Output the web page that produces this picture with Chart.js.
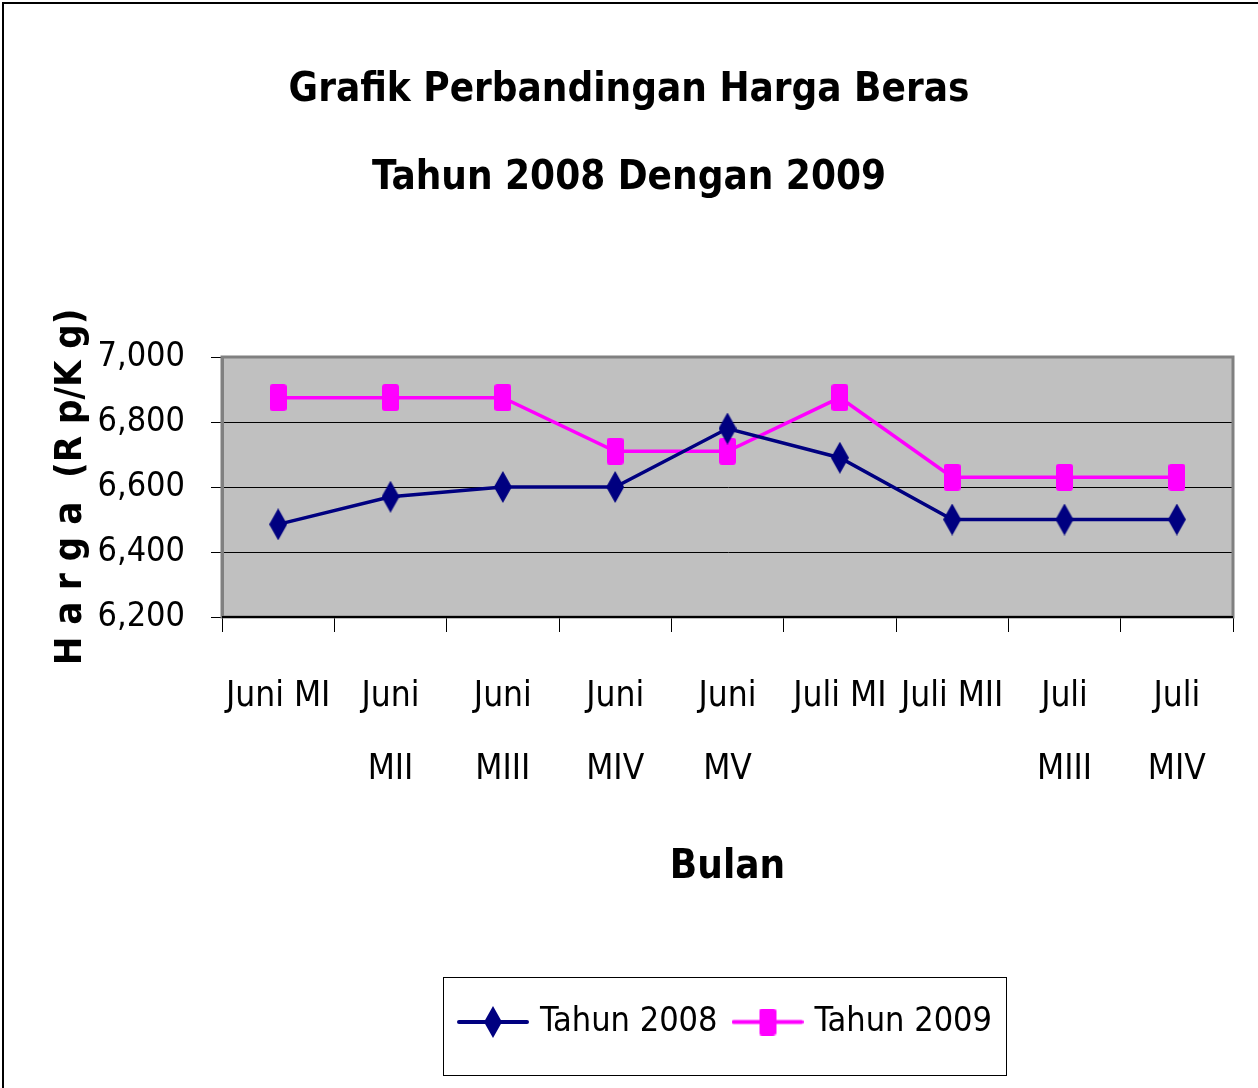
<!DOCTYPE html>
<html>
<head>
<meta charset="utf-8">
<script src="https://cdn.jsdelivr.net/npm/chart.js@4.4.1/dist/chart.umd.min.js"></script>
<style>
  html, body { margin: 0; padding: 0; background: #fff; }
  #wrap { position: absolute; left: 0; top: 0; width: 1258px; height: 1088px; }
  #frame { position: absolute; left: 2px; top: 2px; width: 1256px; height: 1086px;
           border-top: 2px solid #000; border-left: 2px solid #000; box-sizing: border-box; pointer-events: none; }
</style>
</head>
<body>
<div id="wrap">
  <canvas id="hargaChart" width="1258" height="1088"></canvas>
  <div id="frame"></div>
</div>
<script>
const categories = [
  'Juni MI', ['Juni', 'MII'], ['Juni', 'MIII'], ['Juni', 'MIV'], ['Juni', 'MV'],
  'Juli MI', 'Juli MII', ['Juli', 'MIII'], ['Juli', 'MIV']
];
const tahun2008 = [6485, 6570, 6600, 6600, 6780, 6690, 6500, 6500, 6500];
const tahun2009 = [6875, 6875, 6875, 6710, 6710, 6875, 6630, 6630, 6630];
const yTicks = [6200, 6400, 6600, 6800, 7000];

const NARROW = "'Liberation Sans Narrow', 'Arial Narrow', 'DejaVu Sans Condensed', sans-serif";
const NAVY = '#000080';
const MAGENTA = '#FF00FF';

// marker images (taller than wide, like the original)
function diamond(w, h) {
    const c = document.createElement('canvas');
    c.width = w; c.height = h;
    const g = c.getContext('2d');
    g.fillStyle = NAVY;
    g.beginPath();
    g.moveTo(w / 2, 0); g.lineTo(w, h / 2); g.lineTo(w / 2, h); g.lineTo(0, h / 2);
    g.closePath(); g.fill();
    return c;
}
function block(w, h) {
    const c = document.createElement('canvas');
    c.width = w; c.height = h;
    const g = c.getContext('2d');
    g.fillStyle = MAGENTA;
    g.beginPath();
    g.roundRect(0, 0, w, h, 3);
    g.fill();
    return c;
}
function legendIcon(marker, color) {
    const c = document.createElement('canvas');
    c.width = 72; c.height = marker.height;
    const g = c.getContext('2d');
    g.strokeStyle = color;
    g.lineWidth = 4;
    g.lineCap = 'round';
    g.beginPath();
    g.moveTo(2, c.height / 2); g.lineTo(70, c.height / 2);
    g.stroke();
    g.drawImage(marker, (72 - marker.width) / 2, 0);
    return c;
}

const diamondImg = diamond(18, 32);
const blockImg = block(17, 27);
const legendIcons = [legendIcon(diamondImg, NAVY), legendIcon(blockImg, MAGENTA)];

const plotBg = {
    id: 'plotBg',
    beforeDraw(chart) {
        const a = chart.chartArea, ctx = chart.ctx;
        ctx.save();
        ctx.fillStyle = '#C0C0C0';
        ctx.fillRect(a.left, a.top, a.right - a.left, a.bottom - a.top);
        ctx.restore();
    },
    beforeDatasetsDraw(chart) {
        const a = chart.chartArea, ctx = chart.ctx;
        ctx.save();
        ctx.strokeStyle = '#808080';
        ctx.lineWidth = 3;
        ctx.strokeRect(a.left, a.top, a.right - a.left, a.bottom - a.top);
        ctx.strokeStyle = '#000';
        ctx.lineWidth = 2;
        ctx.beginPath();
        ctx.moveTo(a.left, a.bottom); ctx.lineTo(a.right, a.bottom);
        ctx.stroke();
        ctx.restore();
    },
    afterDraw(chart) {
        // box round the legend
        const boxes = chart.legend.legendHitBoxes;
        if (!boxes || !boxes.length) return;
        let l = Infinity, r = -Infinity, t = Infinity, b = -Infinity;
        boxes.forEach(h => {
            l = Math.min(l, h.left); r = Math.max(r, h.left + h.width);
            t = Math.min(t, h.top); b = Math.max(b, h.top + h.height);
        });
        const ctx = chart.ctx;
        ctx.save();
        ctx.strokeStyle = '#000';
        ctx.lineWidth = 1;
        ctx.strokeRect(Math.round(l - 20) + 0.5, Math.round(t - 28) + 0.5, Math.round(r - l) + 34, Math.round(b - t) + 64);
        ctx.restore();
    }
};

new Chart(document.getElementById('hargaChart'), {
    type: 'line',
    data: {
        labels: categories,
        datasets: [{
            label: 'Tahun 2008',
            data: tahun2008,
            borderColor: NAVY,
            borderWidth: 3.5,
            pointStyle: diamondImg,
            tension: 0
        }, {
            label: 'Tahun 2009',
            data: tahun2009,
            borderColor: MAGENTA,
            borderWidth: 3.5,
            pointStyle: blockImg,
            tension: 0
        }]
    },
    options: {
        responsive: false,
        animation: false,
        events: [],
        layout: { padding: { left: 0, right: 0, top: 0, bottom: 39 } },
        plugins: {
            title: {
                display: true,
                text: ['Grafik Perbandingan Harga Beras', 'Tahun 2008 Dengan 2009'],
                color: '#000',
                font: { family: NARROW, size: 40, weight: 'bold', lineHeight: 2.2 },
                padding: { top: 47, bottom: 134 }
            },
            legend: {
                position: 'bottom',
                fullSize: false,
                labels: {
                    color: '#000',
                    font: { family: NARROW, size: 34 },
                    usePointStyle: true,
                    pointStyleWidth: 60,
                    padding: 20,
                    generateLabels(chart) {
                        const items = Chart.defaults.plugins.legend.labels.generateLabels(chart);
                        items.forEach((it, i) => { it.pointStyle = legendIcons[i]; });
                        return items;
                    }
                }
            },
            tooltip: { enabled: false }
        },
        scales: {
            x: {
                offset: true,
                afterFit(scale) { scale.height = 368; },
                grid: { offset: true, drawOnChartArea: false, tickLength: 15, color: '#000', lineWidth: 1 },
                border: { color: '#000', width: 2 },
                ticks: {
                    color: '#000',
                    font: { family: NARROW, size: 35, lineHeight: 2.09 },
                    padding: 28,
                    maxRotation: 0,
                    minRotation: 0,
                    autoSkip: false
                },
                title: {
                    display: true,
                    text: 'Bulan',
                    color: '#000',
                    font: { family: NARROW, size: 40, weight: 'bold', lineHeight: 1.2 },
                    padding: { top: 20, bottom: 93 }
                }
            },
            y: {
                min: yTicks[0],
                max: yTicks[yTicks.length - 1],
                afterBuildTicks(scale) { scale.ticks = yTicks.map(v => ({ value: v })); },
                afterFit(scale) { scale.width = 222; },
                grid: { color: '#000', lineWidth: 1, tickLength: 11 },
                border: { color: '#808080', width: 3 },
                ticks: {
                    color: '#000',
                    font: { family: NARROW, size: 34 },
                    padding: 26,
                    callback: v => v.toLocaleString('en-US')
                },
                title: {
                    display: true,
                    text: 'H a r g a  (R p/K g)',
                    color: '#000',
                    font: { family: NARROW, size: 38, weight: 'bold', lineHeight: 1.2 },
                    padding: { top: 48, bottom: 0 }
                }
            },
            // empty strip on the right so the plot ends where the original does
            spacer: {
                type: 'linear',
                position: 'right',
                display: true,
                afterFit(scale) { scale.width = 25; },
                grid: { display: false },
                border: { display: false },
                ticks: { display: false }
            }
        }
    },
    plugins: [plotBg]
});
</script>
</body>
</html>
